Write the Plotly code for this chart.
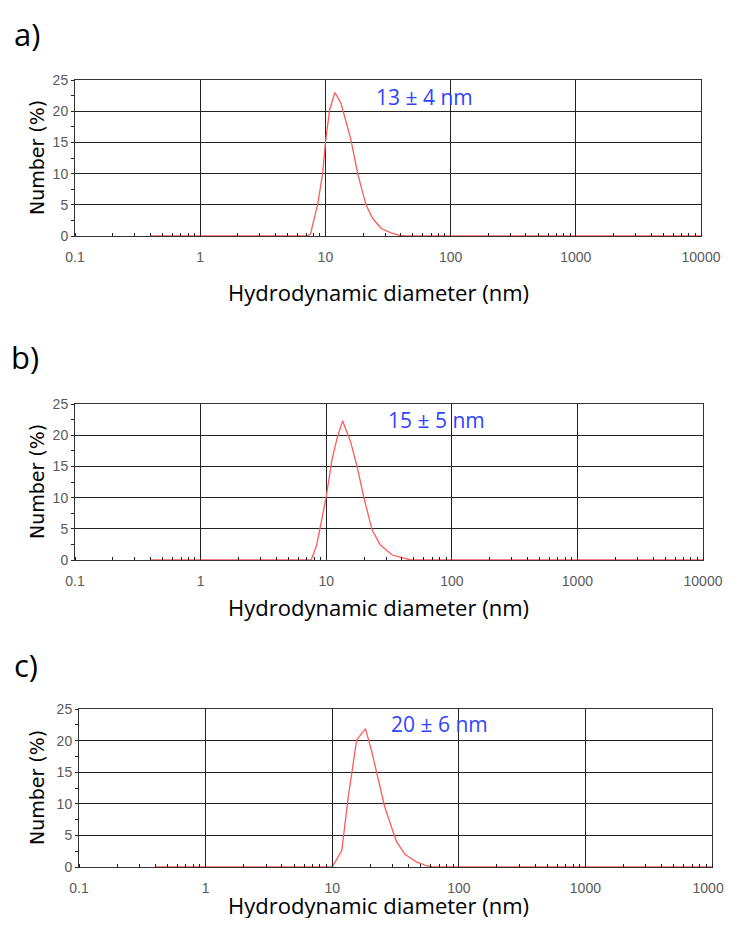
import plotly.graph_objects as go

# size distributions (number %, vs diameter in nm)
a_x = [0.4, 7.2, 7.6, 8.7, 9.5, 10, 10.8, 11.9, 13.3, 16.0, 18.1, 21.1, 23.9, 27.9, 33.5, 39.1, 45, 10000]
a_y = [0, 0, 0.3, 5.2, 10.0, 14.9, 20.2, 23.0, 21.3, 15.4, 10.0, 5.0, 2.8, 1.2, 0.5, 0.1, 0, 0]

b_x = [0.4, 7.6, 8.4, 9.1, 10, 11.1, 12.2, 13.5, 15.6, 17.6, 19.9, 23.2, 27.0, 33.5, 41.5, 47, 10000]
b_y = [0, 0, 2.4, 5.9, 10.1, 16.0, 19.5, 22.3, 19.0, 15.0, 10.1, 4.8, 2.4, 0.8, 0.3, 0, 0]

c_x = [0.4, 10, 11.9, 13.4, 15.6, 16.5, 18.3, 20.4, 23.1, 26.0, 32.2, 37.5, 46.3, 55.6, 62, 10000]
c_y = [0, 0, 2.6, 11.1, 20.1, 20.7, 21.9, 18.5, 13.7, 9.5, 4.0, 2.0, 0.8, 0.2, 0, 0]

panel_labels = ["a)", "b)", "c)"]
size_labels = ["13 ± 4 nm", "15 ± 5 nm", "20 ± 6 nm"]
x_ticks = [0.1, 1, 10, 100, 1000, 10000]
x_tick_text = ["0.1", "1", "10", "100", "1000", "10000"]
y_ticks = [0, 5, 10, 15, 20, 25]

# page body adds an 8px margin on every side; keep the figure small enough
# that the page never scrolls (a scrollbar would eat the right edge)
OFF = 8
W, H = 732 - OFF, 934 - 2 * OFF - 8
# pixel boxes of each plot area in the page: (left, right, top, bottom)
boxes = [(75, 701, 80, 236), (75, 703, 404, 560), (79, 712, 709, 867)]
label_pos = [(27, 34), (25, 357), (26, 665)]
xtitle_y = [292, 607, 905]
note_x = [1.79, 1.88, 1.85]  # log10 of diameter, annotations on log axes use exponents
note_y = [22.2, 22.4, 22.6]


def px(x):
    return (x - OFF) / W


def py(y):
    return 1 - (y - OFF) / H


TICKFONT = dict(family="Liberation Sans Narrow, Arial Narrow, Liberation Sans", size=14, color="#5a5a5a")
TITLEFONT = "Open Sans, Lato, sans-serif"

fig = go.Figure()
series = [(a_x, a_y), (b_x, b_y), (c_x, c_y)]
for i, (xs, ys) in enumerate(series):
    n = "" if i == 0 else str(i + 1)
    fig.add_trace(go.Scatter(x=xs, y=ys, mode="lines", xaxis="x" + n, yaxis="y" + n,
                             line=dict(color="#ff5a5a", width=1.3), showlegend=False,
                             cliponaxis=False))

    l, r, t, b = boxes[i]
    common = dict(showline=True, linecolor="#333333", linewidth=1, mirror=True,
                  gridcolor="#222222", gridwidth=1, zeroline=False, tickfont=TICKFONT,
                  automargin=False, ticklabeloverflow="allow")
    fig.update_layout(**{
        "xaxis" + n: dict(type="log", range=[-1, 4], domain=[px(l), px(r)],
                          anchor="y" + n, tickvals=x_ticks, ticktext=x_tick_text,
                          ticks="outside", ticklen=8, tickcolor="rgba(0,0,0,0)",
                          minor=dict(ticks="inside", ticklen=3, tickcolor="#222222",
                                     dtick="D1", showgrid=False),
                          **common),
        "yaxis" + n: dict(range=[0, 25], domain=[py(b), py(t)],
                          anchor="x" + n, tickvals=y_ticks, ticks="outside", ticklen=3,
                          tickcolor="#222222",
                          minor=dict(ticks="outside", ticklen=3, dtick=2.5,
                                     tickcolor="#222222", showgrid=False),
                          **common),
    })

    fig.add_annotation(x=px(label_pos[i][0]), y=py(label_pos[i][1]), xref="paper", yref="paper",
                       text=panel_labels[i], showarrow=False, xanchor="center", yanchor="middle",
                       font=dict(family=TITLEFONT, size=31, color="black"))
    fig.add_annotation(x=px(378), y=py(xtitle_y[i]), xref="paper", yref="paper",
                       text="Hydrodynamic diameter (nm)", showarrow=False,
                       xanchor="center", yanchor="middle",
                       font=dict(family=TITLEFONT, size=22, color="black"))
    fig.add_annotation(x=px(37), y=py((t + b) / 2), xref="paper", yref="paper",
                       text="Number (%)", showarrow=False, textangle=-90,
                       xanchor="center", yanchor="middle",
                       font=dict(family="DejaVu Sans, Verdana", size=19, color="black"))
    fig.add_annotation(x=note_x[i], y=note_y[i], xref="x" + n, yref="y" + n,
                       text=size_labels[i], showarrow=False,
                       xanchor="center", yanchor="middle",
                       font=dict(family=TITLEFONT, size=21, color="#2f44ff"))

fig.update_layout(width=W, height=H, margin=dict(l=0, r=0, t=0, b=0, autoexpand=False),
                  paper_bgcolor="white", plot_bgcolor="white")

fig.write_html("out.html")
